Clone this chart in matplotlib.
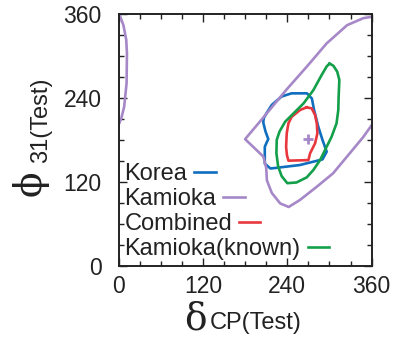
import numpy as np
import matplotlib
matplotlib.use('Agg')
import matplotlib.pyplot as plt
from matplotlib.ticker import MultipleLocator

plt.rcParams['font.family'] = ['Liberation Sans', 'DejaVu Sans']

# contour lines (deg)
korea_x = [206, 211, 218, 232, 246, 268, 275, 278, 284, 290, 296, 290, 258, 225, 216, 208, 208, 211, 213, 209, 206]
korea_y = [210, 219, 230, 242, 246.5, 246.5, 239, 223, 199, 180, 163, 152, 144, 140, 139, 146, 170, 177, 181, 192, 204]

kamioka_x = [360, 348, 325, 296, 268, 239, 220, 201, 180, 206, 210, 211, 218, 230, 242, 258, 282, 305, 329, 348, 360]
kamioka_y = [356, 354, 344, 318, 285, 252, 229, 206, 181, 156, 140, 122, 104, 89, 84, 94, 113, 132, 161, 184, 201]
kamioka_wrap_x = [1, 4, 7, 11, 12, 11.5, 8, 4, 0]
kamioka_wrap_y = [360, 352, 344, 323, 304, 261, 227, 211, 201]

combined_x = [267.6, 274.7, 279.5, 282, 282.8, 279.5, 272.4, 270, 241.6, 239.5, 238.3, 239.2, 241.6, 246.3, 258.2]
combined_y = [226.5, 225, 215.5, 203, 189.3, 175, 160.7, 151, 150.2, 158, 170, 189.3, 203.6, 213, 222.7]

known_x = [300, 305.5, 311, 314, 313, 312.5, 310, 303, 296, 286.6, 277, 267.6, 253, 240, 232, 227, 224.5, 225, 229, 237, 249, 263, 277, 289, 296]
known_y = [289, 286, 277.5, 265.6, 241.7, 222.7, 203.6, 184.5, 170.2, 151, 136.8, 126.3, 119, 118, 128, 142, 161, 180, 192, 206, 218, 232, 251, 273, 285]

true_point = (270, 181)

c_korea = '#106ebe'
c_kamioka = '#a688c8'
c_combined = '#e8383d'
c_known = '#14a04a'


def closed(x, y):
    return list(x) + [x[0]], list(y) + [y[0]]


fig = plt.figure(figsize=(3.95, 3.56), dpi=100)
ax = fig.add_axes([0.300, 0.2537, 0.641, 0.707])

lw = 1.9
ax.plot(*closed(korea_x, korea_y), color=c_korea, lw=lw, label='Korea')
ax.plot(kamioka_x, kamioka_y, color=c_kamioka, lw=lw, label='Kamioka')
ax.plot(kamioka_wrap_x, kamioka_wrap_y, color=c_kamioka, lw=lw)
ax.plot(*closed(combined_x, combined_y), color=c_combined, lw=lw, label='Combined')
ax.plot(*closed(known_x, known_y), color=c_known, lw=lw, label='Kamioka(known)')
ax.plot([true_point[0]], [true_point[1]], marker='+', color=c_kamioka, ms=7, mew=2)

ax.set_xlim(0, 360)
ax.set_ylim(0, 360)
ax.xaxis.set_major_locator(MultipleLocator(120))
ax.yaxis.set_major_locator(MultipleLocator(120))
ax.xaxis.set_minor_locator(MultipleLocator(30))
ax.yaxis.set_minor_locator(MultipleLocator(30))
ax.tick_params(which='both', direction='in', top=True, right=True, width=1.0, color='#222222')
ax.tick_params(which='major', length=6)
ax.tick_params(which='minor', length=3.5)
ax.tick_params(axis='x', which='major', labelsize=16.5, pad=6.5, labelcolor='#222222')
ax.tick_params(axis='y', which='major', labelsize=16.5, pad=12, labelcolor='#222222')
for s in ax.spines.values():
    s.set_linewidth(1.4)
    s.set_color('#222222')

leg = ax.legend(loc='lower left', bbox_to_anchor=(0.0, 0.0), frameon=False,
                fontsize=17, markerfirst=False, handlelength=0.9,
                handletextpad=0.3, labelspacing=0.12, borderpad=0.25,
                borderaxespad=0.0)
for col in leg._legend_handle_box.get_children():
    col.align = 'left'
for t in leg.get_texts():
    t.set_color('#222222')

# axis labels: big greek letter + small sans subscript
serif = ['DejaVu Serif']
fig.text(184 / 395, 1 - 330 / 356, 'δ', family=serif, fontsize=27,
         ha='left', va='baseline', color='#222222')
fig.text(210 / 395, 1 - 329.5 / 356, 'CP(Test)', fontsize=17,
         ha='left', va='baseline', color='#222222')
fig.text(41 / 395, 1 - 196 / 356, 'ϕ', family=serif, fontsize=27, rotation=90,
         rotation_mode='anchor', ha='left', va='baseline', color='#222222')
fig.text(47.5 / 395, 1 - 163 / 356, '31(Test)', fontsize=17, rotation=90,
         rotation_mode='anchor', ha='left', va='baseline', color='#222222')

fig.savefig('out.png', dpi=100)
